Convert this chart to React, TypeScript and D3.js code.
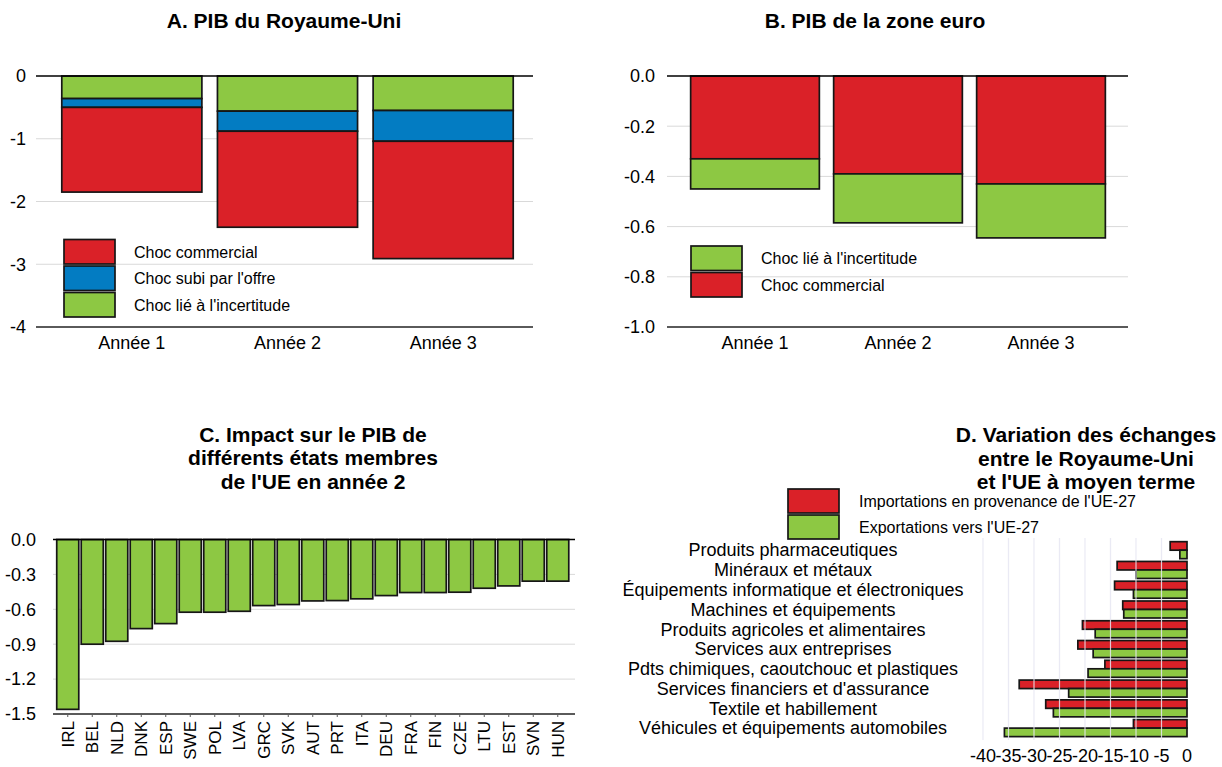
import React from "react";
import * as d3 from "d3";

// ---- Panel A: UK GDP, stacked shocks by year ----
const years = ["Année 1", "Année 2", "Année 3"];
const ukUncertainty = [-0.36, -0.56, -0.55];
const ukSupply = [-0.14, -0.32, -0.49];
const ukTrade = [-1.35, -1.53, -1.87];
const ukTicks = [0, -1, -2, -3, -4];

// ---- Panel B: euro area GDP ----
const euTrade = [-0.33, -0.39, -0.43];
const euUncertainty = [-0.12, -0.195, -0.215];
const euTicks = [0, -0.2, -0.4, -0.6, -0.8, -1.0];

// ---- Panel C: member states, year 2 ----
const countries = [
  "IRL", "BEL", "NLD", "DNK", "ESP", "SWE", "POL", "LVA", "GRC", "SVK", "AUT",
  "PRT", "ITA", "DEU", "FRA", "FIN", "CZE", "LTU", "EST", "SVN", "HUN",
];
const countryImpact = [
  -1.46, -0.9, -0.875, -0.766, -0.723, -0.625, -0.625, -0.617, -0.568, -0.559,
  -0.528, -0.525, -0.51, -0.482, -0.456, -0.456, -0.453, -0.419, -0.399,
  -0.358, -0.358,
];
const countryTicks = [0, -0.3, -0.6, -0.9, -1.2, -1.5];

// ---- Panel D: UK–EU trade by sector ----
const sectors = [
  "Produits pharmaceutiques",
  "Minéraux et métaux",
  "Équipements informatique et électroniques",
  "Machines et équipements",
  "Produits agricoles et alimentaires",
  "Services aux entreprises",
  "Pdts chimiques, caoutchouc et plastiques",
  "Services financiers et d'assurance",
  "Textile et habillement",
  "Véhicules et équipements automobiles",
];
const imports = [-3.3, -13.7, -14.2, -12.6, -20.5, -21.4, -16.1, -32.9, -27.7, -10.5];
const exports = [-1.4, -10.0, -10.5, -12.4, -18.0, -18.4, -19.4, -23.2, -26.2, -35.8];
const tradeTicks = [-40, -35, -30, -25, -20, -15, -10, -5, 0];

const RED = "#DA2128";
const BLUE = "#037CC2";
const GREEN = "#8DC843";
const EDGE = "#161616";
const GRID = "#d9d9d9";
const FONT = "'Liberation Sans', Arial, Helvetica, sans-serif";

// one-decimal labels with a plain hyphen for negatives
const fmt1 = (v: number) => (v === 0 ? "0.0" : d3.format(".1f")(v).replace("−", "-"));

type Seg = { key: string; color: string; values: number[] };

function StackedPanel(props: {
  title: string;
  titleX: number;
  x0: number;
  x1: number;
  bandRange: [number, number];
  domain: [number, number];
  ticks: number[];
  fmt: (v: number) => string;
  tickX: number;
  segs: Seg[];
  legend: { label: string; color: string }[];
  legendX: number;
  legendY: number;
  legendTextX: number;
}) {
  const y = d3.scaleLinear().domain(props.domain).range([327, 76]);
  const x = d3
    .scaleBand<string>()
    .domain(years)
    .range(props.bandRange)
    .paddingInner(0.1)
    .paddingOuter(0.05);
  const bottom = props.domain[0];

  // cumulative stacking downward from zero
  const rects: { x: number; y0: number; y1: number; color: string; k: string }[] = [];
  years.forEach((yr, i) => {
    let acc = 0;
    props.segs.forEach((s) => {
      const start = acc;
      acc += s.values[i];
      rects.push({ x: x(yr)!, y0: y(start), y1: y(acc), color: s.color, k: s.key + i });
    });
  });

  return (
    <g>
      <text x={props.titleX} y={28} textAnchor="middle" fontWeight="bold" fontSize={21}>
        {props.title}
      </text>
      {props.ticks
        .filter((t) => t !== 0 && t !== bottom)
        .map((t) => (
          <line key={t} x1={props.x0} x2={props.x1} y1={y(t)} y2={y(t)} stroke={GRID} strokeWidth={1} />
        ))}
      {props.ticks.map((t) => (
        <text key={"l" + t} x={props.tickX} y={y(t)} dy="0.35em" textAnchor="end" fontSize={18}>
          {props.fmt(t)}
        </text>
      ))}
      <line x1={props.x0} x2={props.x1} y1={y(bottom)} y2={y(bottom)} stroke="#5a5a5a" strokeWidth={2} />
      {rects.map((r) => (
        <rect
          key={r.k}
          x={r.x}
          y={r.y0}
          width={x.bandwidth()}
          height={r.y1 - r.y0}
          fill={r.color}
          stroke={EDGE}
          strokeWidth={1.7}
        />
      ))}
      <line x1={props.x0} x2={props.x1} y1={y(0)} y2={y(0)} stroke="#000" strokeWidth={1.6} />
      {years.map((yr) => (
        <text key={yr} x={x(yr)! + x.bandwidth() / 2} y={349} textAnchor="middle" fontSize={18}>
          {yr}
        </text>
      ))}
      {props.legend.map((l, i) => (
        <g key={l.label}>
          <rect
            x={props.legendX}
            y={props.legendY + i * 26.5}
            width={51}
            height={24.5}
            fill={l.color}
            stroke={EDGE}
            strokeWidth={1.7}
          />
          <text x={props.legendTextX} y={props.legendY + i * 26.5 + 12.5} dy="0.35em" fontSize={16}>
            {l.label}
          </text>
        </g>
      ))}
    </g>
  );
}

function CountryPanel() {
  const y = d3.scaleLinear().domain([-1.5, 0]).range([714, 539.5]);
  const x = d3
    .scaleBand<string>()
    .domain(countries)
    .range([55.5, 570])
    .paddingInner(0.1)
    .paddingOuter(0.05);
  return (
    <g>
      {["C. Impact sur le PIB de", "différents états membres", "de l'UE en année 2"].map((s, i) => (
        <text key={s} x={313} y={442 + i * 23.3} textAnchor="middle" fontWeight="bold" fontSize={21}>
          {s}
        </text>
      ))}
      {countryTicks
        .filter((t) => t !== 0 && t !== -1.5)
        .map((t) => (
          <line key={t} x1={53} x2={575} y1={y(t)} y2={y(t)} stroke={GRID} strokeWidth={1} />
        ))}
      {countryTicks.map((t) => (
        <text key={"l" + t} x={36} y={y(t)} dy="0.35em" textAnchor="end" fontSize={18}>
          {fmt1(t)}
        </text>
      ))}
      <line x1={53} x2={575} y1={y(-1.5)} y2={y(-1.5)} stroke="#5a5a5a" strokeWidth={2} />
      {countries.map((c) => (
        <line
          key={"t" + c}
          x1={x(c)! + x.bandwidth() / 2}
          x2={x(c)! + x.bandwidth() / 2}
          y1={y(-1.5)}
          y2={y(-1.5) + 3}
          stroke="#5a5a5a"
          strokeWidth={1}
        />
      ))}
      {countries.map((c, i) => (
        <rect
          key={c}
          x={x(c)!}
          y={y(0)}
          width={x.bandwidth()}
          height={y(countryImpact[i]) - y(0)}
          fill={GREEN}
          stroke={EDGE}
          strokeWidth={1.7}
        />
      ))}
      <line x1={53} x2={575} y1={y(0)} y2={y(0)} stroke="#000" strokeWidth={1.6} />
      {countries.map((c) => (
        <text
          key={"n" + c}
          transform={`translate(${x(c)! + x.bandwidth() / 2},${721}) rotate(-90)`}
          textAnchor="end"
          dy="0.35em"
          fontSize={17}
        >
          {c}
        </text>
      ))}
    </g>
  );
}

function TradePanel() {
  const x = d3.scaleLinear().domain([-40, 0]).range([983, 1187]);
  const y = d3
    .scaleBand<string>()
    .domain(sectors)
    .range([540.3, 738])
    .paddingInner(0.14)
    .paddingOuter(0.07);
  const inner = d3
    .scaleBand<string>()
    .domain(["imp", "exp"])
    .range([0, y.bandwidth()]);
  return (
    <g>
      {["D. Variation des échanges", "entre le Royaume-Uni", "et l'UE à moyen terme"].map((s, i) => (
        <text key={s} x={1086} y={442 + i * 23.5} textAnchor="middle" fontWeight="bold" fontSize={21}>
          {s}
        </text>
      ))}
      {[
        { label: "Importations en provenance de l'UE-27", color: RED },
        { label: "Exportations vers l'UE-27", color: GREEN },
      ].map((l, i) => (
        <g key={l.label}>
          <rect x={788} y={489 + i * 26} width={51} height={24} fill={l.color} stroke={EDGE} strokeWidth={1.7} />
          <text x={859} y={501 + i * 26} dy="0.35em" fontSize={16}>
            {l.label}
          </text>
        </g>
      ))}
      {sectors.map((s) => (
        <text key={s} x={793} y={y(s)! + y.bandwidth() / 2} dy="0.35em" textAnchor="middle" fontSize={18}>
          {s}
        </text>
      ))}
      {sectors.map((s, i) => (
        <g key={"b" + s}>
          <rect
            x={x(imports[i])}
            y={y(s)! + inner("imp")!}
            width={x(0) - x(imports[i])}
            height={inner.bandwidth()}
            fill={RED}
            stroke={EDGE}
            strokeWidth={1.7}
          />
          <rect
            x={x(exports[i])}
            y={y(s)! + inner("exp")!}
            width={x(0) - x(exports[i])}
            height={inner.bandwidth()}
            fill={GREEN}
            stroke={EDGE}
            strokeWidth={1.7}
          />
        </g>
      ))}
      {tradeTicks
        .filter((t) => t !== 0)
        .map((t) => (
          <line key={t} x1={x(t)} x2={x(t)} y1={538} y2={740} stroke="#e6e6f2" strokeOpacity={0.85} strokeWidth={1.2} />
        ))}
      {tradeTicks.map((t) => (
        <text key={"l" + t} x={x(t)} y={762} textAnchor="middle" fontSize={18}>
          {t}
        </text>
      ))}
    </g>
  );
}

export default function App() {
  return (
    <svg
      width={1222}
      height={767}
      viewBox="0 0 1222 767"
      style={{ position: "absolute", left: 0, top: 0, background: "#fff" }}
      fontFamily={FONT}
      fill="#000"
    >
      <StackedPanel
        title="A. PIB du Royaume-Uni"
        titleX={284}
        x0={36}
        x1={533}
        bandRange={[54, 521]}
        domain={[-4, 0]}
        ticks={ukTicks}
        fmt={(v) => String(v)}
        tickX={26}
        segs={[
          { key: "u", color: GREEN, values: ukUncertainty },
          { key: "s", color: BLUE, values: ukSupply },
          { key: "t", color: RED, values: ukTrade },
        ]}
        legend={[
          { label: "Choc commercial", color: RED },
          { label: "Choc subi par l'offre", color: BLUE },
          { label: "Choc lié à l'incertitude", color: GREEN },
        ]}
        legendX={64}
        legendY={239.5}
        legendTextX={134}
      />
      <StackedPanel
        title="B. PIB de la zone euro"
        titleX={875}
        x0={667}
        x1={1128}
        bandRange={[683.5, 1112.5]}
        domain={[-1, 0]}
        ticks={euTicks}
        fmt={fmt1}
        tickX={655}
        segs={[
          { key: "t", color: RED, values: euTrade },
          { key: "u", color: GREEN, values: euUncertainty },
        ]}
        legend={[
          { label: "Choc lié à l'incertitude", color: GREEN },
          { label: "Choc commercial", color: RED },
        ]}
        legendX={691}
        legendY={246}
        legendTextX={761}
      />
      <CountryPanel />
      <TradePanel />
    </svg>
  );
}
